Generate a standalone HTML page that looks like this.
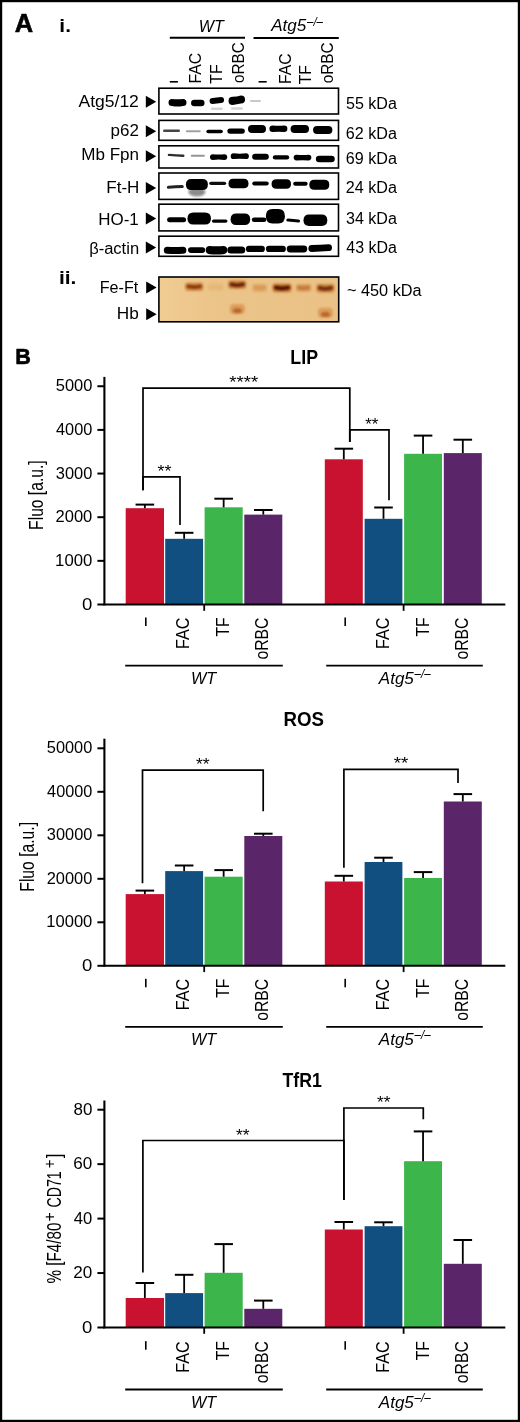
<!DOCTYPE html>
<html><head><meta charset="utf-8"><style>
html,body{margin:0;padding:0;background:#fff;}
svg{display:block;font-family:"Liberation Sans", sans-serif;will-change:transform;}
</style></head><body>
<svg width="520" height="1422" viewBox="0 0 520 1422">
<defs>
<filter id="bl" x="-20%" y="-50%" width="140%" height="200%"><feGaussianBlur stdDeviation="0.7"/></filter>
<filter id="bl2" x="-30%" y="-80%" width="160%" height="260%"><feGaussianBlur stdDeviation="1.0"/></filter>
<linearGradient id="gelg" x1="0" y1="0" x2="1" y2="0">
<stop offset="0" stop-color="#f0cc93"/><stop offset="0.3" stop-color="#ebc489"/><stop offset="1" stop-color="#eac287"/>
</linearGradient>
</defs>
<rect x="0" y="0" width="520" height="1422" fill="#fff"/>
<rect x="1.1" y="1.1" width="517.8" height="1419.8" fill="none" stroke="#000" stroke-width="2.2"/>
<text x="14.69" y="31.5" font-size="25.13" font-weight="bold" textLength="18.38" lengthAdjust="spacingAndGlyphs" fill="#000" stroke="#000" stroke-width="0.6" stroke-linejoin="round">A</text>
<text x="59.36" y="31.7" font-size="19" font-weight="bold" textLength="11.57" lengthAdjust="spacingAndGlyphs" fill="#000">i.</text>
<text x="198.82" y="31.5" font-size="17" font-style="italic" textLength="25.03" lengthAdjust="spacingAndGlyphs" fill="#000">WT</text>
<line x1="169.8" y1="37.75" x2="245" y2="37.75" stroke="#000" stroke-width="1.9"/>
<text x="271.15" y="30.9" font-size="16" font-style="italic" textLength="35.1" lengthAdjust="spacingAndGlyphs" fill="#000">Atg5</text>
<text x="306.98" y="25.9" font-size="13" font-style="italic" textLength="16.05" lengthAdjust="spacingAndGlyphs" fill="#000">–/–</text>
<line x1="253.5" y1="38" x2="338.8" y2="38" stroke="#000" stroke-width="1.9"/>
<rect x="169.8" y="81" width="8.1" height="1.6" fill="#000"/>
<text x="201.4" y="83.6" font-size="16.5" textLength="30.89" lengthAdjust="spacingAndGlyphs" transform="rotate(-90 201.4 83.6)">FAC</text>
<text x="222.1" y="83.85" font-size="16.5" textLength="19.48" lengthAdjust="spacingAndGlyphs" transform="rotate(-90 222.1 83.85)">TF</text>
<text x="244.3" y="82.94" font-size="16.5" textLength="40.61" lengthAdjust="spacingAndGlyphs" transform="rotate(-90 244.3 82.94)">oRBC</text>
<rect x="258.6" y="81" width="8.1" height="1.6" fill="#000"/>
<text x="290.8" y="84" font-size="16.5" textLength="30.78" lengthAdjust="spacingAndGlyphs" transform="rotate(-90 290.8 84)">FAC</text>
<text x="311" y="84.35" font-size="16.5" textLength="19.17" lengthAdjust="spacingAndGlyphs" transform="rotate(-90 311 84.35)">TF</text>
<text x="333" y="83.34" font-size="16.5" textLength="40.92" lengthAdjust="spacingAndGlyphs" transform="rotate(-90 333 83.34)">oRBC</text>
<rect x="158.9" y="88.2" width="179.6" height="25.8" fill="none" stroke="#000" stroke-width="1.6"/>
<text x="78.46" y="106.5" font-size="16" textLength="60.42" lengthAdjust="spacingAndGlyphs" fill="#000">Atg5/12</text>
<path d="M145.8 95.8L156.2 101.8L145.8 107.8Z" fill="#000"/>
<text x="345.96" y="109.2" font-size="15.6" textLength="50.93" lengthAdjust="spacingAndGlyphs" fill="#000">55 kDa</text>
<rect x="158.9" y="120.4" width="179.6" height="19.9" fill="none" stroke="#000" stroke-width="1.6"/>
<text x="110.51" y="135.7" font-size="16" textLength="28.34" lengthAdjust="spacingAndGlyphs" fill="#000">p62</text>
<path d="M145.8 125.3L156.2 131.3L145.8 137.3Z" fill="#000"/>
<text x="345.79" y="138.9" font-size="15.6" textLength="51.1" lengthAdjust="spacingAndGlyphs" fill="#000">62 kDa</text>
<rect x="158.9" y="145.8" width="179.6" height="22.2" fill="none" stroke="#000" stroke-width="1.6"/>
<text x="81.3" y="160.3" font-size="16" textLength="57.79" lengthAdjust="spacingAndGlyphs" fill="#000">Mb Fpn</text>
<path d="M145.8 150.2L156.2 156.2L145.8 162.2Z" fill="#000"/>
<text x="345.79" y="164.2" font-size="15.6" textLength="51.1" lengthAdjust="spacingAndGlyphs" fill="#000">69 kDa</text>
<rect x="158.9" y="173.0" width="179.6" height="26.4" fill="none" stroke="#000" stroke-width="1.6"/>
<text x="106.3" y="193.2" font-size="16" textLength="33.07" lengthAdjust="spacingAndGlyphs" fill="#000">Ft-H</text>
<path d="M145.8 182.1L156.2 188.1L145.8 194.1Z" fill="#000"/>
<text x="345.79" y="192.5" font-size="15.6" textLength="51.1" lengthAdjust="spacingAndGlyphs" fill="#000">24 kDa</text>
<rect x="158.9" y="204.2" width="179.6" height="26.7" fill="none" stroke="#000" stroke-width="1.6"/>
<text x="98.31" y="225" font-size="16" textLength="40.51" lengthAdjust="spacingAndGlyphs" fill="#000">HO-1</text>
<path d="M145.8 212.6L156.2 218.6L145.8 224.6Z" fill="#000"/>
<text x="345.99" y="224.4" font-size="15.6" textLength="50.9" lengthAdjust="spacingAndGlyphs" fill="#000">34 kDa</text>
<rect x="158.9" y="236.2" width="179.6" height="20.1" fill="none" stroke="#000" stroke-width="1.6"/>
<text x="89.16" y="253.8" font-size="16" textLength="49.91" lengthAdjust="spacingAndGlyphs" fill="#000">β-actin</text>
<path d="M145.8 241.6L156.2 247.6L145.8 253.6Z" fill="#000"/>
<text x="346.25" y="252.5" font-size="15.6" textLength="50.64" lengthAdjust="spacingAndGlyphs" fill="#000">43 kDa</text>
<g filter="url(#bl)">
<path d="M172.03 98.9Q177.5 99.6 182.97 98.9Q186.5 98.9 186.5 102.4Q186.5 105.9 182.97 105.9Q177.5 107.2 172.03 105.9Q168.5 105.9 168.5 102.4Q168.5 98.9 172.03 98.9Z" fill="rgb(0,0,0)"/>
<path d="M194.39 99.7Q197.8 99.7 201.22 99.7Q204.55 99.7 204.55 103Q204.55 106.3 201.22 106.3Q197.8 106.3 194.39 106.3Q191.05 106.3 191.05 103Q191.05 99.7 194.39 99.7Z" fill="rgb(0,0,0)"/>
<path d="M212.6 97.9Q216.8 97.4 221 96.9Q224.05 96.9 224.05 99.9Q224.05 102.9 221 102.9Q216.8 103.4 212.6 103.9Q209.55 103.9 209.55 100.9Q209.55 97.9 212.6 97.9Z" fill="rgb(0,0,0)"/>
<path d="M232.65 96.8Q236.8 96.6 240.96 95.4Q245.05 95.4 245.05 99.5Q245.05 103.6 240.96 103.6Q236.8 104.3 232.65 105Q228.55 105 228.55 100.9Q228.55 96.8 232.65 96.8Z" fill="rgb(0,0,0)"/>
<path d="M251.06 100.1Q255.5 100.1 259.94 100.1Q261 100.1 261 101Q261 101.9 259.94 101.9Q255.5 101.9 251.06 101.9Q250 101.9 250 101Q250 100.1 251.06 100.1Z" fill="rgb(201,201,201)"/>
<path d="M212.19 107.55Q216.8 107.55 221.41 107.55Q222.8 107.55 222.8 108.8Q222.8 110.05 221.41 110.05Q216.8 110.05 212.19 110.05Q210.8 110.05 210.8 108.8Q210.8 107.55 212.19 107.55Z" fill="rgb(211,211,211)"/>
<path d="M232.19 107.35Q236.8 107.35 241.41 107.35Q242.8 107.35 242.8 108.6Q242.8 109.85 241.41 109.85Q236.8 109.85 232.19 109.85Q230.8 109.85 230.8 108.6Q230.8 107.35 232.19 107.35Z" fill="rgb(211,211,211)"/>
<path d="M164.34 129.5Q171.5 129.5 178.66 129.5Q180 129.5 180 130.7Q180 131.9 178.66 131.9Q171.5 131.9 164.34 131.9Q163 131.9 163 130.7Q163 129.5 164.34 129.5Z" fill="rgb(68,68,68)"/>
<path d="M186.95 130.3Q193.3 130.3 199.65 130.3Q200.8 130.3 200.8 131.3Q200.8 132.3 199.65 132.3Q193.3 132.3 186.95 132.3Q185.8 132.3 185.8 131.3Q185.8 130.3 186.95 130.3Z" fill="rgb(160,160,160)"/>
<path d="M208.16 129.8Q214.6 129.8 221.03 129.8Q222.85 129.8 222.85 131.5Q222.85 133.2 221.03 133.2Q214.6 133.2 208.16 133.2Q206.35 133.2 206.35 131.5Q206.35 129.8 208.16 129.8Z" fill="rgb(0,0,0)"/>
<path d="M230.11 128.4Q236.1 128.4 242.09 128.4Q244.85 128.4 244.85 131.1Q244.85 133.8 242.09 133.8Q236.1 133.8 230.11 133.8Q227.35 133.8 227.35 131.1Q227.35 128.4 230.11 128.4Z" fill="rgb(0,0,0)"/>
<path d="M252 125.1Q257 125.1 262 125.1Q266 125.1 266 129.1Q266 133.1 262 133.1Q257 133.1 252 133.1Q248 133.1 248 129.1Q248 125.1 252 125.1Z" fill="rgb(0,0,0)"/>
<path d="M272.73 125.5Q278.4 126.1 284.06 125.5Q287.4 125.5 287.4 128.8Q287.4 132.1 284.06 132.1Q278.4 131.5 272.73 132.1Q269.4 132.1 269.4 128.8Q269.4 125.5 272.73 125.5Z" fill="rgb(0,0,0)"/>
<path d="M294.55 125.1Q299.8 125.1 305.05 125.1Q309.05 125.1 309.05 129.1Q309.05 133.1 305.05 133.1Q299.8 133.1 294.55 133.1Q290.55 133.1 290.55 129.1Q290.55 125.1 294.55 125.1Z" fill="rgb(0,0,0)"/>
<path d="M317.05 126Q322.7 126 328.35 126Q332.35 126 332.35 130Q332.35 134 328.35 134Q322.7 134 317.05 134Q313.05 134 313.05 130Q313.05 126 317.05 126Z" fill="rgb(0,0,0)"/>
<path d="M169.04 153.7Q176.1 154.1 183.16 154.5Q184.5 154.5 184.5 155.7Q184.5 156.9 183.16 156.9Q176.1 156.5 169.04 156.1Q167.7 156.1 167.7 154.9Q167.7 153.7 169.04 153.7Z" fill="rgb(45,45,45)"/>
<path d="M191.85 154.7Q197.8 154.7 203.75 154.7Q204.9 154.7 204.9 155.7Q204.9 156.7 203.75 156.7Q197.8 156.7 191.85 156.7Q190.7 156.7 190.7 155.7Q190.7 154.7 191.85 154.7Z" fill="rgb(149,149,149)"/>
<path d="M212.91 154.2Q218.6 155 224.29 154.2Q227.25 154.2 227.25 157.1Q227.25 160 224.29 160Q218.6 159.2 212.91 160Q209.95 160 209.95 157.1Q209.95 154.2 212.91 154.2Z" fill="rgb(0,0,0)"/>
<path d="M233.66 153.3Q239.8 154.1 245.94 153.3Q248.9 153.3 248.9 156.2Q248.9 159.1 245.94 159.1Q239.8 158.3 233.66 159.1Q230.7 159.1 230.7 156.2Q230.7 153.3 233.66 153.3Z" fill="rgb(0,0,0)"/>
<path d="M255.2 153.8Q260.5 153.8 265.8 153.8Q268.85 153.8 268.85 156.8Q268.85 159.8 265.8 159.8Q260.5 159.8 255.2 159.8Q252.15 159.8 252.15 156.8Q252.15 153.8 255.2 153.8Z" fill="rgb(0,0,0)"/>
<path d="M275 155.3Q281 155.3 287 155.3Q289.2 155.3 289.2 157.4Q289.2 159.5 287 159.5Q281 159.5 275 159.5Q272.8 159.5 272.8 157.4Q272.8 155.3 275 155.3Z" fill="rgb(0,0,0)"/>
<path d="M296.51 154.8Q302.5 155.3 308.49 154.8Q311.35 154.8 311.35 157.6Q311.35 160.4 308.49 160.4Q302.5 159.9 296.51 160.4Q293.65 160.4 293.65 157.6Q293.65 154.8 296.51 154.8Z" fill="rgb(0,0,0)"/>
<path d="M319.19 155.7Q325.3 155.7 331.42 155.7Q334.75 155.7 334.75 159Q334.75 162.3 331.42 162.3Q325.3 162.3 319.19 162.3Q315.85 162.3 315.85 159Q315.85 155.7 319.19 155.7Z" fill="rgb(0,0,0)"/>
<path d="M168.43 185.7Q175.3 185.4 182.18 185.1Q183.8 185.1 183.8 186.6Q183.8 188.1 182.18 188.1Q175.3 188.4 168.43 188.7Q166.8 188.7 166.8 187.2Q166.8 185.7 168.43 185.7Z" fill="rgb(34,34,34)"/>
<path d="M191.33 179.1Q196.9 179.1 202.47 179.1Q207.9 179.1 207.9 184.6Q207.9 190.1 202.47 190.1Q196.9 190.1 191.33 190.1Q185.9 190.1 185.9 184.6Q185.9 179.1 191.33 179.1Z" fill="rgb(0,0,0)"/>
<path d="M210.97 181.65Q217.7 181.65 224.43 181.65Q226.2 181.65 226.2 183.3Q226.2 184.95 224.43 184.95Q217.7 184.95 210.97 184.95Q209.2 184.95 209.2 183.3Q209.2 181.65 210.97 181.65Z" fill="rgb(11,11,11)"/>
<path d="M233.21 178.75Q238.5 178.75 243.79 178.75Q248.5 178.75 248.5 183.5Q248.5 188.25 243.79 188.25Q238.5 188.25 233.21 188.25Q228.5 188.25 228.5 183.5Q228.5 178.75 233.21 178.75Z" fill="rgb(0,0,0)"/>
<path d="M254.35 181.5Q260.5 181.5 266.65 181.5Q268.75 181.5 268.75 183.5Q268.75 185.5 266.65 185.5Q260.5 185.5 254.35 185.5Q252.25 185.5 252.25 183.5Q252.25 181.5 254.35 181.5Z" fill="rgb(0,0,0)"/>
<path d="M276.31 179.2Q281.3 179.2 286.29 179.2Q291.05 179.2 291.05 184Q291.05 188.8 286.29 188.8Q281.3 188.8 276.31 188.8Q271.55 188.8 271.55 184Q271.55 179.2 276.31 179.2Z" fill="rgb(0,0,0)"/>
<path d="M295.25 181.8Q300.4 181.8 305.55 181.8Q307.65 181.8 307.65 183.8Q307.65 185.8 305.55 185.8Q300.4 185.8 295.25 185.8Q293.15 185.8 293.15 183.8Q293.15 181.8 295.25 181.8Z" fill="rgb(0,0,0)"/>
<path d="M314.25 179.8Q319.3 179.8 324.35 179.8Q329.3 179.8 329.3 184.8Q329.3 189.8 324.35 189.8Q319.3 189.8 314.25 189.8Q309.3 189.8 309.3 184.8Q309.3 179.8 314.25 179.8Z" fill="rgb(0,0,0)"/>
<path d="M169.67 217.2Q176.6 217.2 183.53 217.2Q186.1 217.2 186.1 219.7Q186.1 222.2 183.53 222.2Q176.6 222.2 169.67 222.2Q167.1 222.2 167.1 219.7Q167.1 217.2 169.67 217.2Z" fill="rgb(0,0,0)"/>
<path d="M193.35 212.5Q199.2 212.5 205.05 212.5Q210.95 212.5 210.95 218.5Q210.95 224.5 205.05 224.5Q199.2 224.5 193.35 224.5Q187.45 224.5 187.45 218.5Q187.45 212.5 193.35 212.5Z" fill="rgb(0,0,0)"/>
<path d="M213.71 219.4Q219.7 219.4 225.69 219.4Q227.5 219.4 227.5 221.1Q227.5 222.8 225.69 222.8Q219.7 222.8 213.71 222.8Q211.9 222.8 211.9 221.1Q211.9 219.4 213.71 219.4Z" fill="rgb(0,0,0)"/>
<path d="M236.26 213.55Q240.4 213.55 244.54 213.55Q250.2 213.55 250.2 219.3Q250.2 225.05 244.54 225.05Q240.4 225.05 236.26 225.05Q230.6 225.05 230.6 219.3Q230.6 213.55 236.26 213.55Z" fill="rgb(0,0,0)"/>
<path d="M254.19 217.5Q259.1 217.5 264.02 217.5Q266.4 217.5 266.4 219.8Q266.4 222.1 264.02 222.1Q259.1 222.1 254.19 222.1Q251.8 222.1 251.8 219.8Q251.8 217.5 254.19 217.5Z" fill="rgb(0,0,0)"/>
<path d="M272.43 209.05Q275.4 209.05 278.37 209.05Q284.9 209.05 284.9 216.3Q284.9 223.55 278.37 223.55Q275.4 223.55 272.43 223.55Q265.9 223.55 265.9 216.3Q265.9 209.05 272.43 209.05Z" fill="rgb(0,0,0)"/>
<path d="M287.93 218.6Q293.2 219 298.47 219.4Q300.1 219.4 300.1 220.9Q300.1 222.4 298.47 222.4Q293.2 222 287.93 221.6Q286.3 221.6 286.3 220.1Q286.3 218.6 287.93 218.6Z" fill="rgb(0,0,0)"/>
<path d="M309.12 214.5Q315.4 214.5 321.68 214.5Q327.3 214.5 327.3 220.2Q327.3 225.9 321.68 225.9Q315.4 225.9 309.12 225.9Q303.5 225.9 303.5 220.2Q303.5 214.5 309.12 214.5Z" fill="rgb(0,0,0)"/>
<path d="M167.32 246.7Q175.1 247.3 182.88 246.7Q186.4 246.7 186.4 250.2Q186.4 253.7 182.88 253.7Q175.1 254.5 167.32 253.7Q163.8 253.7 163.8 250.2Q163.8 246.7 167.32 246.7Z" fill="rgb(0,0,0)"/>
<path d="M190.86 247.3Q196.6 247.3 202.34 247.3Q205.2 247.3 205.2 250.1Q205.2 252.9 202.34 252.9Q196.6 252.9 190.86 252.9Q188 252.9 188 250.1Q188 247.3 190.86 247.3Z" fill="rgb(0,0,0)"/>
<path d="M209.79 246Q216.5 246.6 223.21 246Q227.3 246 227.3 250.1Q227.3 254.2 223.21 254.2Q216.5 255 209.79 254.2Q205.7 254.2 205.7 250.1Q205.7 246 209.79 246Z" fill="rgb(0,0,0)"/>
<path d="M230.92 246.4Q236.3 246.4 241.68 246.4Q245.3 246.4 245.3 250Q245.3 253.6 241.68 253.6Q236.3 253.6 230.92 253.6Q227.3 253.6 227.3 250Q227.3 246.4 230.92 246.4Z" fill="rgb(0,0,0)"/>
<path d="M249.05 245.8Q255.4 245.8 261.75 245.8Q264.9 245.8 264.9 248.9Q264.9 252 261.75 252Q255.4 252 249.05 252Q245.9 252 245.9 248.9Q245.9 245.8 249.05 245.8Z" fill="rgb(0,0,0)"/>
<path d="M269.04 245.8Q275.9 245.8 282.75 245.8Q285.9 245.8 285.9 248.9Q285.9 252 282.75 252Q275.9 252 269.04 252Q265.9 252 265.9 248.9Q265.9 245.8 269.04 245.8Z" fill="rgb(0,0,0)"/>
<path d="M290.18 245.6Q297 245.6 303.82 245.6Q307.25 245.6 307.25 249Q307.25 252.4 303.82 252.4Q297 252.4 290.18 252.4Q286.75 252.4 286.75 249Q286.75 245.6 290.18 245.6Z" fill="rgb(0,0,0)"/>
<path d="M311.83 245.1Q320.2 244.7 328.57 244.3Q332 244.3 332 247.7Q332 251.1 328.57 251.1Q320.2 251.5 311.83 251.9Q308.4 251.9 308.4 248.5Q308.4 245.1 311.83 245.1Z" fill="rgb(0,0,0)"/>
</g>
<ellipse cx="196.9" cy="192" rx="8.5" ry="4.5" fill="#000" opacity="0.45" filter="url(#bl2)"/>
<text x="58.95" y="284.2" font-size="19" font-weight="bold" textLength="17.48" lengthAdjust="spacingAndGlyphs" fill="#000">ii.</text>
<text x="99.67" y="292.5" font-size="16" textLength="38.63" lengthAdjust="spacingAndGlyphs" fill="#000">Fe-Ft</text>
<text x="116.89" y="319" font-size="16" textLength="22.02" lengthAdjust="spacingAndGlyphs" fill="#000">Hb</text>
<path d="M146.2 281.5L156.6 287.5L146.2 293.5Z" fill="#000"/>
<path d="M146.2 308.2L156.6 314.2L146.2 320.2Z" fill="#000"/>
<text x="346.98" y="295.8" font-size="15.6" textLength="74.71" lengthAdjust="spacingAndGlyphs" fill="#000">~ 450 kDa</text>
<rect x="159" y="277" width="179.8" height="44.8" fill="url(#gelg)"/>
<g filter="url(#bl2)">
<rect x="185" y="282.5" width="18.4" height="8.4" rx="3" fill="#cf7e34" opacity="0.8"/>
<path d="M188.39 284.3Q194.2 285.9 200 284.3Q202.2 284.3 202.2 286.4Q202.2 288.5 200 288.5Q194.2 290.1 188.39 288.5Q186.2 288.5 186.2 286.4Q186.2 284.3 188.39 284.3Z" fill="#7e2a0a" opacity="0.85"/>
<rect x="207.9" y="283.4" width="15.4" height="7.2" rx="3" fill="#cf7e34" opacity="0.18"/>
<rect x="228" y="280.3" width="18.4" height="8.8" rx="3" fill="#cf7e34" opacity="0.8"/>
<path d="M231.58 282.1Q237.2 283.7 242.81 282.1Q245.2 282.1 245.2 284.4Q245.2 286.7 242.81 286.7Q237.2 288.3 231.58 286.7Q229.2 286.7 229.2 284.4Q229.2 282.1 231.58 282.1Z" fill="#6e2208" opacity="1.0"/>
<rect x="252.4" y="283.95" width="14.4" height="7.7" rx="3" fill="#cf7e34" opacity="0.42"/>
<path d="M255.46 285.75Q259.6 287.35 263.74 285.75Q265.6 285.75 265.6 287.5Q265.6 289.25 263.74 289.25Q259.6 290.85 255.46 289.25Q253.6 289.25 253.6 287.5Q253.6 285.75 255.46 285.75Z" fill="#8a300c" opacity="0.1"/>
<rect x="272.3" y="283.2" width="19.4" height="9.4" rx="3" fill="#cf7e34" opacity="0.85"/>
<path d="M276.17 285Q282 286.6 287.83 285Q290.5 285 290.5 287.6Q290.5 290.2 287.83 290.2Q282 291.8 276.17 290.2Q273.5 290.2 273.5 287.6Q273.5 285 276.17 285Z" fill="#5a1604" opacity="1.0"/>
<rect x="295.9" y="283.9" width="15.4" height="7.8" rx="3" fill="#cf7e34" opacity="0.55"/>
<path d="M299.01 285.7Q303.6 287.3 308.19 285.7Q310.1 285.7 310.1 287.5Q310.1 289.3 308.19 289.3Q303.6 290.9 299.01 289.3Q297.1 289.3 297.1 287.5Q297.1 285.7 299.01 285.7Z" fill="#8a300c" opacity="0.35"/>
<rect x="316.2" y="283.8" width="18.4" height="9" rx="3" fill="#cf7e34" opacity="0.75"/>
<path d="M319.88 285.6Q325.4 287.2 330.92 285.6Q333.4 285.6 333.4 288Q333.4 290.4 330.92 290.4Q325.4 292 319.88 290.4Q317.4 290.4 317.4 288Q317.4 285.6 319.88 285.6Z" fill="#6a2006" opacity="0.85"/>
<rect x="229.9" y="304" width="15" height="10" rx="4" fill="#d4843a" opacity="0.6"/>
<ellipse cx="237.4" cy="310.7" rx="4.5" ry="2.6" fill="#9a3a0e" opacity="0.55"/>
<rect x="317.9" y="307.7" width="15" height="10" rx="4" fill="#d4843a" opacity="0.6"/>
<ellipse cx="325.4" cy="314.4" rx="4.5" ry="2.6" fill="#9a3a0e" opacity="0.55"/>
</g>
<rect x="158.9" y="277" width="179.8" height="44.8" fill="none" stroke="#000" stroke-width="1.6"/>
<text x="15.27" y="363.6" font-size="22.93" font-weight="bold" textLength="15.6" lengthAdjust="spacingAndGlyphs" fill="#000" stroke="#000" stroke-width="0.6" stroke-linejoin="round">B</text>
<text x="290.33" y="363.8" font-size="19.8" font-weight="bold" textLength="27.67" lengthAdjust="spacingAndGlyphs" fill="#000">LIP</text>
<rect x="125.7" y="508.2" width="38.3" height="96.3" fill="#c8122f"/>
<line x1="144.85" y1="504.6" x2="144.85" y2="508.2" stroke="#000" stroke-width="1.8"/>
<line x1="135.55" y1="504.6" x2="154.15" y2="504.6" stroke="#000" stroke-width="2.0"/>
<rect x="165.2" y="538.8" width="37.9" height="65.7" fill="#114f80"/>
<line x1="184.15" y1="532.8" x2="184.15" y2="538.8" stroke="#000" stroke-width="1.8"/>
<line x1="174.85" y1="532.8" x2="193.45" y2="532.8" stroke="#000" stroke-width="2.0"/>
<rect x="204.6" y="507.3" width="38.1" height="97.2" fill="#3cb54b"/>
<line x1="223.65" y1="498.7" x2="223.65" y2="507.3" stroke="#000" stroke-width="1.8"/>
<line x1="214.35" y1="498.7" x2="232.95" y2="498.7" stroke="#000" stroke-width="2.0"/>
<rect x="244.3" y="514.6" width="38" height="89.9" fill="#5b2569"/>
<line x1="263.3" y1="510" x2="263.3" y2="514.6" stroke="#000" stroke-width="1.8"/>
<line x1="254" y1="510" x2="272.6" y2="510" stroke="#000" stroke-width="2.0"/>
<rect x="324.8" y="459.3" width="38" height="145.2" fill="#c8122f"/>
<line x1="343.8" y1="448.7" x2="343.8" y2="459.3" stroke="#000" stroke-width="1.8"/>
<line x1="334.5" y1="448.7" x2="353.1" y2="448.7" stroke="#000" stroke-width="2.0"/>
<rect x="364.6" y="518.8" width="37.8" height="85.7" fill="#114f80"/>
<line x1="383.5" y1="507.5" x2="383.5" y2="518.8" stroke="#000" stroke-width="1.8"/>
<line x1="374.2" y1="507.5" x2="392.8" y2="507.5" stroke="#000" stroke-width="2.0"/>
<rect x="404.1" y="453.8" width="37.9" height="150.7" fill="#3cb54b"/>
<line x1="423.05" y1="435.6" x2="423.05" y2="453.8" stroke="#000" stroke-width="1.8"/>
<line x1="413.75" y1="435.6" x2="432.35" y2="435.6" stroke="#000" stroke-width="2.0"/>
<rect x="443.8" y="453.1" width="38" height="151.4" fill="#5b2569"/>
<line x1="462.8" y1="439.7" x2="462.8" y2="453.1" stroke="#000" stroke-width="1.8"/>
<line x1="453.5" y1="439.7" x2="472.1" y2="439.7" stroke="#000" stroke-width="2.0"/>
<line x1="104.4" y1="376.9" x2="104.4" y2="605.4" stroke="#000" stroke-width="2.1"/>
<line x1="103.4" y1="604.5" x2="505.3" y2="604.5" stroke="#000" stroke-width="1.9"/>
<line x1="204.2" y1="604.5" x2="204.2" y2="610.8" stroke="#000" stroke-width="1.8"/>
<line x1="403.6" y1="604.5" x2="403.6" y2="610.8" stroke="#000" stroke-width="1.8"/>
<line x1="97.4" y1="604.5" x2="104" y2="604.5" stroke="#000" stroke-width="2.0"/>
<text x="82.08" y="609.6" font-size="15.8" textLength="10.33" lengthAdjust="spacingAndGlyphs" fill="#000">0</text>
<line x1="97.4" y1="560.85" x2="104" y2="560.85" stroke="#000" stroke-width="2.0"/>
<text x="55.13" y="565.95" font-size="15.8" textLength="37.22" lengthAdjust="spacingAndGlyphs" fill="#000">1000</text>
<line x1="97.4" y1="517.2" x2="104" y2="517.2" stroke="#000" stroke-width="2.0"/>
<text x="55.57" y="522.3" font-size="15.8" textLength="36.76" lengthAdjust="spacingAndGlyphs" fill="#000">2000</text>
<line x1="97.4" y1="473.55" x2="104" y2="473.55" stroke="#000" stroke-width="2.0"/>
<text x="55.78" y="478.65" font-size="15.8" textLength="36.56" lengthAdjust="spacingAndGlyphs" fill="#000">3000</text>
<line x1="97.4" y1="429.9" x2="104" y2="429.9" stroke="#000" stroke-width="2.0"/>
<text x="56.04" y="435" font-size="15.8" textLength="36.29" lengthAdjust="spacingAndGlyphs" fill="#000">4000</text>
<line x1="97.4" y1="386.25" x2="104" y2="386.25" stroke="#000" stroke-width="2.0"/>
<text x="55.74" y="391.35" font-size="15.8" textLength="36.59" lengthAdjust="spacingAndGlyphs" fill="#000">5000</text>
<path d="M143 490.3V388.1H349.8V441.9" fill="none" stroke="#000" stroke-width="1.7"/>
<text x="229.3" y="388.16" font-size="17.4" textLength="28.99" lengthAdjust="spacingAndGlyphs" fill="#000">****</text>
<path d="M143 490.3V476.9H180V524.9" fill="none" stroke="#000" stroke-width="1.7"/>
<text x="157.41" y="476.96" font-size="17.4" textLength="14.07" lengthAdjust="spacingAndGlyphs" fill="#000">**</text>
<path d="M349.8 441.9V429.9H389V500.2" fill="none" stroke="#000" stroke-width="1.7"/>
<text x="365.13" y="429.96" font-size="17.4" textLength="13.23" lengthAdjust="spacingAndGlyphs" fill="#000">**</text>
<text x="43.2" y="529.88" font-size="19.8" textLength="69.49" lengthAdjust="spacingAndGlyphs" transform="rotate(-90 43.2 529.88)">Fluo [a.u.]</text>
<rect x="145" y="617.5" width="1.6" height="8.5" fill="#000"/>
<text x="189.5" y="649.03" font-size="18" textLength="31.53" lengthAdjust="spacingAndGlyphs" transform="rotate(-90 189.5 649.03)">FAC</text>
<text x="229.2" y="636.54" font-size="18" textLength="19.06" lengthAdjust="spacingAndGlyphs" transform="rotate(-90 229.2 636.54)">TF</text>
<text x="268.3" y="659.56" font-size="18" textLength="42.05" lengthAdjust="spacingAndGlyphs" transform="rotate(-90 268.3 659.56)">oRBC</text>
<rect x="344.4" y="617.5" width="1.6" height="8.5" fill="#000"/>
<text x="388.9" y="649.03" font-size="18" textLength="31.53" lengthAdjust="spacingAndGlyphs" transform="rotate(-90 388.9 649.03)">FAC</text>
<text x="428.6" y="636.54" font-size="18" textLength="19.06" lengthAdjust="spacingAndGlyphs" transform="rotate(-90 428.6 636.54)">TF</text>
<text x="467.7" y="659.56" font-size="18" textLength="42.05" lengthAdjust="spacingAndGlyphs" transform="rotate(-90 467.7 659.56)">oRBC</text>
<line x1="125.2" y1="665.6" x2="282.8" y2="665.6" stroke="#000" stroke-width="1.8"/>
<line x1="326.2" y1="665.6" x2="482.8" y2="665.6" stroke="#000" stroke-width="1.8"/>
<text x="190.9" y="683.8" font-size="16.7" font-style="italic" textLength="25.33" lengthAdjust="spacingAndGlyphs" fill="#000">WT</text>
<text x="378.85" y="683.5" font-size="16" font-style="italic" textLength="35" lengthAdjust="spacingAndGlyphs" fill="#000">Atg5</text>
<text x="414.58" y="678.1" font-size="13" font-style="italic" textLength="16.15" lengthAdjust="spacingAndGlyphs" fill="#000">–/–</text>
<text x="283.47" y="726" font-size="19.8" font-weight="bold" textLength="40.46" lengthAdjust="spacingAndGlyphs" fill="#000">ROS</text>
<rect x="125.7" y="894.1" width="38.3" height="71.7" fill="#c8122f"/>
<line x1="144.85" y1="890.6" x2="144.85" y2="894.1" stroke="#000" stroke-width="1.8"/>
<line x1="135.55" y1="890.6" x2="154.15" y2="890.6" stroke="#000" stroke-width="2.0"/>
<rect x="165.2" y="871.1" width="37.9" height="94.7" fill="#114f80"/>
<line x1="184.15" y1="865.5" x2="184.15" y2="871.1" stroke="#000" stroke-width="1.8"/>
<line x1="174.85" y1="865.5" x2="193.45" y2="865.5" stroke="#000" stroke-width="2.0"/>
<rect x="204.6" y="876.7" width="38.1" height="89.1" fill="#3cb54b"/>
<line x1="223.65" y1="870.1" x2="223.65" y2="876.7" stroke="#000" stroke-width="1.8"/>
<line x1="214.35" y1="870.1" x2="232.95" y2="870.1" stroke="#000" stroke-width="2.0"/>
<rect x="244.3" y="836" width="38" height="129.8" fill="#5b2569"/>
<line x1="263.3" y1="833.7" x2="263.3" y2="836" stroke="#000" stroke-width="1.8"/>
<line x1="254" y1="833.7" x2="272.6" y2="833.7" stroke="#000" stroke-width="2.0"/>
<rect x="324.8" y="881.5" width="38" height="84.3" fill="#c8122f"/>
<line x1="343.8" y1="875.8" x2="343.8" y2="881.5" stroke="#000" stroke-width="1.8"/>
<line x1="334.5" y1="875.8" x2="353.1" y2="875.8" stroke="#000" stroke-width="2.0"/>
<rect x="364.6" y="862" width="37.8" height="103.8" fill="#114f80"/>
<line x1="383.5" y1="857.7" x2="383.5" y2="862" stroke="#000" stroke-width="1.8"/>
<line x1="374.2" y1="857.7" x2="392.8" y2="857.7" stroke="#000" stroke-width="2.0"/>
<rect x="404.1" y="878" width="37.9" height="87.8" fill="#3cb54b"/>
<line x1="423.05" y1="872.1" x2="423.05" y2="878" stroke="#000" stroke-width="1.8"/>
<line x1="413.75" y1="872.1" x2="432.35" y2="872.1" stroke="#000" stroke-width="2.0"/>
<rect x="443.8" y="801.5" width="38" height="164.3" fill="#5b2569"/>
<line x1="462.8" y1="794.1" x2="462.8" y2="801.5" stroke="#000" stroke-width="1.8"/>
<line x1="453.5" y1="794.1" x2="472.1" y2="794.1" stroke="#000" stroke-width="2.0"/>
<line x1="104.4" y1="738.7" x2="104.4" y2="966.7" stroke="#000" stroke-width="2.1"/>
<line x1="103.4" y1="965.8" x2="505.3" y2="965.8" stroke="#000" stroke-width="1.9"/>
<line x1="204.2" y1="965.8" x2="204.2" y2="972.1" stroke="#000" stroke-width="1.8"/>
<line x1="403.6" y1="965.8" x2="403.6" y2="972.1" stroke="#000" stroke-width="1.8"/>
<line x1="97.4" y1="965.8" x2="104" y2="965.8" stroke="#000" stroke-width="2.0"/>
<text x="82.08" y="970.9" font-size="15.8" textLength="10.33" lengthAdjust="spacingAndGlyphs" fill="#000">0</text>
<line x1="97.4" y1="922.3" x2="104" y2="922.3" stroke="#000" stroke-width="2.0"/>
<text x="46.24" y="927.4" font-size="15.8" textLength="46.09" lengthAdjust="spacingAndGlyphs" fill="#000">10000</text>
<line x1="97.4" y1="878.8" x2="104" y2="878.8" stroke="#000" stroke-width="2.0"/>
<text x="46.68" y="883.9" font-size="15.8" textLength="45.64" lengthAdjust="spacingAndGlyphs" fill="#000">20000</text>
<line x1="97.4" y1="835.3" x2="104" y2="835.3" stroke="#000" stroke-width="2.0"/>
<text x="46.88" y="840.4" font-size="15.8" textLength="45.44" lengthAdjust="spacingAndGlyphs" fill="#000">30000</text>
<line x1="97.4" y1="791.8" x2="104" y2="791.8" stroke="#000" stroke-width="2.0"/>
<text x="47.14" y="796.9" font-size="15.8" textLength="45.17" lengthAdjust="spacingAndGlyphs" fill="#000">40000</text>
<line x1="97.4" y1="748.3" x2="104" y2="748.3" stroke="#000" stroke-width="2.0"/>
<text x="46.85" y="753.4" font-size="15.8" textLength="45.47" lengthAdjust="spacingAndGlyphs" fill="#000">50000</text>
<path d="M142.5 883.2V770.1H263.2V811.2" fill="none" stroke="#000" stroke-width="1.7"/>
<text x="195.92" y="770.16" font-size="17.4" textLength="13.65" lengthAdjust="spacingAndGlyphs" fill="#000">**</text>
<path d="M343.9 867.7V769.4H458V783" fill="none" stroke="#000" stroke-width="1.7"/>
<text x="393.7" y="769.46" font-size="17.4" textLength="14.59" lengthAdjust="spacingAndGlyphs" fill="#000">**</text>
<text x="33.8" y="891.69" font-size="19.8" textLength="69.69" lengthAdjust="spacingAndGlyphs" transform="rotate(-90 33.8 891.69)">Fluo [a.u.]</text>
<rect x="145" y="978.8" width="1.6" height="8.5" fill="#000"/>
<text x="189.5" y="1010.33" font-size="18" textLength="31.53" lengthAdjust="spacingAndGlyphs" transform="rotate(-90 189.5 1010.33)">FAC</text>
<text x="229.2" y="997.84" font-size="18" textLength="19.06" lengthAdjust="spacingAndGlyphs" transform="rotate(-90 229.2 997.84)">TF</text>
<text x="268.3" y="1020.86" font-size="18" textLength="42.05" lengthAdjust="spacingAndGlyphs" transform="rotate(-90 268.3 1020.86)">oRBC</text>
<rect x="344.4" y="978.8" width="1.6" height="8.5" fill="#000"/>
<text x="388.9" y="1010.33" font-size="18" textLength="31.53" lengthAdjust="spacingAndGlyphs" transform="rotate(-90 388.9 1010.33)">FAC</text>
<text x="428.6" y="997.84" font-size="18" textLength="19.06" lengthAdjust="spacingAndGlyphs" transform="rotate(-90 428.6 997.84)">TF</text>
<text x="467.7" y="1020.86" font-size="18" textLength="42.05" lengthAdjust="spacingAndGlyphs" transform="rotate(-90 467.7 1020.86)">oRBC</text>
<line x1="125.2" y1="1026.9" x2="282.8" y2="1026.9" stroke="#000" stroke-width="1.8"/>
<line x1="326.2" y1="1026.9" x2="482.8" y2="1026.9" stroke="#000" stroke-width="1.8"/>
<text x="190.9" y="1045.1" font-size="16.7" font-style="italic" textLength="25.33" lengthAdjust="spacingAndGlyphs" fill="#000">WT</text>
<text x="378.85" y="1044.8" font-size="16" font-style="italic" textLength="35" lengthAdjust="spacingAndGlyphs" fill="#000">Atg5</text>
<text x="414.58" y="1039.4" font-size="13" font-style="italic" textLength="16.15" lengthAdjust="spacingAndGlyphs" fill="#000">–/–</text>
<text x="282.51" y="1086.9" font-size="19.8" font-weight="bold" textLength="39.27" lengthAdjust="spacingAndGlyphs" fill="#000">TfR1</text>
<rect x="125.7" y="1298" width="38.3" height="29.5" fill="#c8122f"/>
<line x1="144.85" y1="1283" x2="144.85" y2="1298" stroke="#000" stroke-width="1.8"/>
<line x1="135.55" y1="1283" x2="154.15" y2="1283" stroke="#000" stroke-width="2.0"/>
<rect x="165.2" y="1293.1" width="37.9" height="34.4" fill="#114f80"/>
<line x1="184.15" y1="1274.8" x2="184.15" y2="1293.1" stroke="#000" stroke-width="1.8"/>
<line x1="174.85" y1="1274.8" x2="193.45" y2="1274.8" stroke="#000" stroke-width="2.0"/>
<rect x="204.6" y="1272.8" width="38.1" height="54.7" fill="#3cb54b"/>
<line x1="223.65" y1="1244.1" x2="223.65" y2="1272.8" stroke="#000" stroke-width="1.8"/>
<line x1="214.35" y1="1244.1" x2="232.95" y2="1244.1" stroke="#000" stroke-width="2.0"/>
<rect x="244.3" y="1308.8" width="38" height="18.7" fill="#5b2569"/>
<line x1="263.3" y1="1300.6" x2="263.3" y2="1308.8" stroke="#000" stroke-width="1.8"/>
<line x1="254" y1="1300.6" x2="272.6" y2="1300.6" stroke="#000" stroke-width="2.0"/>
<rect x="324.8" y="1229.5" width="38" height="98" fill="#c8122f"/>
<line x1="343.8" y1="1222" x2="343.8" y2="1229.5" stroke="#000" stroke-width="1.8"/>
<line x1="334.5" y1="1222" x2="353.1" y2="1222" stroke="#000" stroke-width="2.0"/>
<rect x="364.6" y="1226.2" width="37.8" height="101.3" fill="#114f80"/>
<line x1="383.5" y1="1222.3" x2="383.5" y2="1226.2" stroke="#000" stroke-width="1.8"/>
<line x1="374.2" y1="1222.3" x2="392.8" y2="1222.3" stroke="#000" stroke-width="2.0"/>
<rect x="404.1" y="1161.2" width="37.9" height="166.3" fill="#3cb54b"/>
<line x1="423.05" y1="1131.4" x2="423.05" y2="1161.2" stroke="#000" stroke-width="1.8"/>
<line x1="413.75" y1="1131.4" x2="432.35" y2="1131.4" stroke="#000" stroke-width="2.0"/>
<rect x="443.8" y="1263.8" width="38" height="63.7" fill="#5b2569"/>
<line x1="462.8" y1="1240" x2="462.8" y2="1263.8" stroke="#000" stroke-width="1.8"/>
<line x1="453.5" y1="1240" x2="472.1" y2="1240" stroke="#000" stroke-width="2.0"/>
<line x1="104.4" y1="1100.5" x2="104.4" y2="1328.4" stroke="#000" stroke-width="2.1"/>
<line x1="103.4" y1="1327.5" x2="505.3" y2="1327.5" stroke="#000" stroke-width="1.9"/>
<line x1="204.2" y1="1327.5" x2="204.2" y2="1333.8" stroke="#000" stroke-width="1.8"/>
<line x1="403.6" y1="1327.5" x2="403.6" y2="1333.8" stroke="#000" stroke-width="1.8"/>
<line x1="97.4" y1="1327.5" x2="104" y2="1327.5" stroke="#000" stroke-width="2.0"/>
<text x="82.08" y="1332.6" font-size="15.8" textLength="10.33" lengthAdjust="spacingAndGlyphs" fill="#000">0</text>
<line x1="97.4" y1="1273.05" x2="104" y2="1273.05" stroke="#000" stroke-width="2.0"/>
<text x="73.35" y="1278.15" font-size="15.8" textLength="19.01" lengthAdjust="spacingAndGlyphs" fill="#000">20</text>
<line x1="97.4" y1="1218.6" x2="104" y2="1218.6" stroke="#000" stroke-width="2.0"/>
<text x="73.83" y="1223.7" font-size="15.8" textLength="18.5" lengthAdjust="spacingAndGlyphs" fill="#000">40</text>
<line x1="97.4" y1="1164.15" x2="104" y2="1164.15" stroke="#000" stroke-width="2.0"/>
<text x="73.35" y="1169.25" font-size="15.8" textLength="19.01" lengthAdjust="spacingAndGlyphs" fill="#000">60</text>
<line x1="97.4" y1="1109.7" x2="104" y2="1109.7" stroke="#000" stroke-width="2.0"/>
<text x="73.47" y="1114.8" font-size="15.8" textLength="18.88" lengthAdjust="spacingAndGlyphs" fill="#000">80</text>
<path d="M142.9 1272.5V1140.5H343.9V1200.1" fill="none" stroke="#000" stroke-width="1.7"/>
<text x="236.02" y="1140.56" font-size="17.4" textLength="13.54" lengthAdjust="spacingAndGlyphs" fill="#000">**</text>
<path d="M343.9 1200.1V1108H423.3V1119.3" fill="none" stroke="#000" stroke-width="1.7"/>
<text x="377.02" y="1108.06" font-size="17.4" textLength="13.44" lengthAdjust="spacingAndGlyphs" fill="#000">**</text>
<text x="61.2" y="1283.53" font-size="20.5" textLength="60.91" lengthAdjust="spacingAndGlyphs" transform="rotate(-90 61.2 1283.53)">% [F4/80</text>
<text x="55.2" y="1221.47" font-size="15.7" textLength="9.35" lengthAdjust="spacingAndGlyphs" transform="rotate(-90 55.2 1221.47)">+</text>
<text x="61.2" y="1207.51" font-size="20.5" textLength="36.29" lengthAdjust="spacingAndGlyphs" transform="rotate(-90 61.2 1207.51)">CD71</text>
<text x="55.2" y="1168.31" font-size="15.7" textLength="8.63" lengthAdjust="spacingAndGlyphs" transform="rotate(-90 55.2 1168.31)">+</text>
<text x="61.2" y="1158.32" font-size="20.5" textLength="4.58" lengthAdjust="spacingAndGlyphs" transform="rotate(-90 61.2 1158.32)">]</text>
<rect x="145" y="1341.2" width="1.6" height="8.5" fill="#000"/>
<text x="189.5" y="1372.73" font-size="18" textLength="31.53" lengthAdjust="spacingAndGlyphs" transform="rotate(-90 189.5 1372.73)">FAC</text>
<text x="229.2" y="1360.24" font-size="18" textLength="19.06" lengthAdjust="spacingAndGlyphs" transform="rotate(-90 229.2 1360.24)">TF</text>
<text x="268.3" y="1383.26" font-size="18" textLength="42.05" lengthAdjust="spacingAndGlyphs" transform="rotate(-90 268.3 1383.26)">oRBC</text>
<rect x="344.4" y="1341.2" width="1.6" height="8.5" fill="#000"/>
<text x="388.9" y="1372.73" font-size="18" textLength="31.53" lengthAdjust="spacingAndGlyphs" transform="rotate(-90 388.9 1372.73)">FAC</text>
<text x="428.6" y="1360.24" font-size="18" textLength="19.06" lengthAdjust="spacingAndGlyphs" transform="rotate(-90 428.6 1360.24)">TF</text>
<text x="467.7" y="1383.26" font-size="18" textLength="42.05" lengthAdjust="spacingAndGlyphs" transform="rotate(-90 467.7 1383.26)">oRBC</text>
<line x1="125.2" y1="1389.5" x2="282.8" y2="1389.5" stroke="#000" stroke-width="1.8"/>
<line x1="326.2" y1="1389.5" x2="482.8" y2="1389.5" stroke="#000" stroke-width="1.8"/>
<text x="190.9" y="1408.1" font-size="16.7" font-style="italic" textLength="25.33" lengthAdjust="spacingAndGlyphs" fill="#000">WT</text>
<text x="378.85" y="1407.8" font-size="16" font-style="italic" textLength="35" lengthAdjust="spacingAndGlyphs" fill="#000">Atg5</text>
<text x="414.58" y="1402.4" font-size="13" font-style="italic" textLength="16.15" lengthAdjust="spacingAndGlyphs" fill="#000">–/–</text>
</svg>
</body></html>
